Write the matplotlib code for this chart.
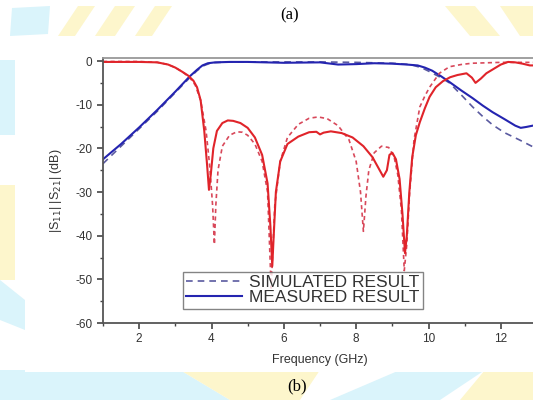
import matplotlib
matplotlib.use('Agg')
import matplotlib.pyplot as plt
from matplotlib.patches import Polygon, Rectangle

plt.rcParams['font.family'] = ['Liberation Sans', 'DejaVu Sans']
plt.rcParams['axes.unicode_minus'] = False

# measured S11 (red solid)
f_s11_meas = [1.0, 1.5, 2.0, 2.5, 2.8, 3.0, 3.2, 3.35, 3.5, 3.6, 3.7, 3.8, 3.88, 3.93, 3.98,
              4.05, 4.15, 4.3, 4.45, 4.6, 4.8, 5.0, 5.2, 5.4, 5.55, 5.63, 5.68, 5.72, 5.78,
              5.9, 6.1, 6.4, 6.7, 6.9, 7.0, 7.1, 7.3, 7.6, 7.9, 8.2, 8.45, 8.65, 8.75, 8.85,
              8.92, 9.0, 9.1, 9.2, 9.28, 9.35, 9.4, 9.47, 9.55, 9.65, 9.76, 9.9, 10.03, 10.2,
              10.4, 10.6, 10.8, 11.05, 11.2, 11.3, 11.45, 11.6, 11.8, 12.0, 12.2, 12.4, 12.6,
              12.8, 13.0]
s11_meas = [-0.2, -0.2, -0.2, -0.3, -0.8, -1.5, -2.5, -3.3, -4.5, -6.0, -9, -16, -24, -29.5, -26,
            -20, -16, -14.2, -13.6, -13.7, -14.2, -15.3, -17.5, -21.5, -28, -38, -47, -40, -30,
            -23, -19, -17.3, -16.3, -16.2, -16.8, -16.4, -16.1, -16.5, -17.5, -19.5, -22, -25, -26.5, -25,
            -21.5, -21, -22.5, -27, -35, -44, -40, -30, -22, -17, -14, -10.8, -8.2, -6.0,
            -4.6, -3.7, -3.2, -2.8, -3.8, -5.0, -4.0, -2.8, -1.8, -0.8, -0.2, -0.3, -0.6,
            -1.0, -1.0]

# simulated S11 (red dashed)
f_s11_sim = [1.0, 2.0, 2.5, 2.8, 3.0, 3.2, 3.4, 3.55, 3.7, 3.85, 3.95, 4.03, 4.08, 4.12, 4.18,
             4.3, 4.5, 4.7, 4.85, 5.0, 5.2, 5.4, 5.55, 5.65, 5.75, 5.9, 6.1, 6.4, 6.7, 6.95,
             7.2, 7.5, 7.8, 8.0, 8.12, 8.2, 8.27, 8.35, 8.5, 8.7, 8.9, 9.05, 9.15, 9.25, 9.33,
             9.4, 9.48, 9.6, 9.76, 9.9, 10.03, 10.3, 10.58, 10.9, 11.2, 11.6, 12.0, 12.5, 13.0]
s11_sim = [-0.1, -0.1, -0.3, -0.8, -1.5, -2.5, -3.8, -5.5, -9, -16, -24, -33, -42, -33, -25,
           -19.5, -17, -16.2, -16.3, -17, -19, -23, -30, -52, -33, -23, -17.5, -14.5, -13.1, -12.8,
           -13.2, -14.8, -18, -23, -30, -39, -31, -25, -21, -19.5, -19.8, -22, -26, -34, -48,
           -42, -30, -18, -10.5, -8, -6, -2.8, -1.3, -0.8, -0.5, -0.4, -0.3, -0.3, -0.3]

# measured S21 (blue solid)
f_s21_meas = [1.0, 1.5, 2.0, 2.5, 3.0, 3.4, 3.6, 3.75, 3.9, 4.1, 4.5, 5.0, 6.0, 7.0, 7.5, 8.0,
              8.5, 9.0, 9.4, 9.7, 9.9, 10.1, 10.35, 10.58, 10.9, 11.22, 11.5, 11.77, 12.1,
              12.4, 12.55, 12.7, 13.0]
s21_meas = [-22.5, -19, -15.2, -11.2, -7, -3.5, -2, -1, -0.5, -0.3, -0.2, -0.2, -0.4, -0.3, -0.8,
            -0.7, -0.5, -0.6, -0.8, -1.0, -1.5, -2.2, -3.5, -4.8, -6.7, -8.5, -10.2, -11.7, -13.3,
            -14.8, -15.3, -15.1, -14.6]

# simulated S21 (blue dashed)
f_s21_sim = [1.0, 1.5, 2.0, 2.5, 3.0, 3.4, 3.6, 3.8, 4.0, 4.5, 5, 6, 7, 8, 9, 9.5, 9.8, 10.0,
             10.3, 10.58, 10.9, 11.22, 11.5, 11.77, 12.1, 12.5, 12.9, 13.0]
s21_sim = [-23.5, -19.5, -15.5, -11.5, -7.2, -3.8, -2.2, -1.0, -0.4, -0.2, -0.2, -0.2, -0.2, -0.3,
           -0.5, -0.8, -1.5, -2.3, -3.6, -5.0, -7.7, -10.5, -12.7, -14.6, -16.4, -18, -19.7, -20.5]

xticks = [2, 4, 6, 8, 10, 12]
yticks = [0, -10, -20, -30, -40, -50, -60]

W, H = 533, 400
fig = plt.figure(figsize=(5.33, 4.0), dpi=100)

# faint watermark stripes of the page behind the figure
def px_poly(pts, color):
    fig.patches.append(Polygon([(x / W, 1 - y / H) for x, y in pts], closed=True,
                               transform=fig.transFigure, facecolor=color,
                               edgecolor='none', zorder=-5))

yel = '#fdf6cc'
cyan = '#daf4fb'
px_poly([(12, 8), (50, 6), (48, 34), (10, 36)], cyan)
px_poly([(58, 36), (78, 6), (95, 6), (75, 36)], yel)
px_poly([(95, 36), (115, 6), (135, 6), (115, 36)], yel)
px_poly([(135, 36), (155, 6), (172, 6), (152, 36)], yel)
px_poly([(445, 6), (475, 6), (500, 36), (470, 36)], yel)
px_poly([(500, 6), (533, 6), (533, 36), (520, 36)], yel)
px_poly([(0, 60), (15, 60), (15, 135), (0, 135)], cyan)
px_poly([(0, 185), (15, 185), (15, 280), (0, 280)], yel)
px_poly([(0, 280), (25, 300), (25, 330), (0, 320)], cyan)
px_poly([(0, 370), (180, 370), (230, 400), (0, 400)], cyan)
px_poly([(180, 370), (320, 370), (300, 400), (230, 400)], yel)
px_poly([(400, 370), (485, 370), (440, 400), (330, 400)], cyan)
px_poly([(485, 370), (533, 370), (533, 400), (460, 400)], yel)
fig.patches.append(Rectangle((25 / W, 1 - 372 / H), 1, (372 - 40) / H,
                             transform=fig.transFigure, facecolor='white',
                             edgecolor='none', zorder=-4))

ax = fig.add_axes([103 / W, 1 - 323 / H, 434 / W, 265 / H])

ax.plot(f_s21_sim, s21_sim, color='#5a5aa0', lw=1.2, ls=(0, (4, 3)), label='SIMULATED RESULT')
ax.plot(f_s21_meas, s21_meas, color='#2424b0', lw=1.5, label='MEASURED RESULT')
ax.plot(f_s11_sim, s11_sim, color='#d8485a', lw=1.2, ls=(0, (2.5, 2)))
ax.plot(f_s11_meas, s11_meas, color='#e0242a', lw=1.5)

ax.set_xlim(1, 13)
ax.set_ylim(-60, 0.7)
ax.set_xticks(xticks)
ax.set_xticks(range(1, 14), minor=True)
ax.set_yticks(yticks)
ax.set_yticks(range(-55, 1, 10), minor=True)

tc = '#444444'
ax.tick_params(axis='both', which='both', direction='out', colors=tc, labelsize=8.5,
               labelcolor='#333333')
ax.tick_params(which='major', length=4, width=1.2)
ax.tick_params(which='minor', length=2.5, width=1.0)
for side in ['left', 'bottom']:
    ax.spines[side].set_color('#555555')
    ax.spines[side].set_linewidth(1.3)
for side in ['top', 'right']:
    ax.spines[side].set_color('#999999')
    ax.spines[side].set_linewidth(1.3)

ax.set_xlabel('Frequency (GHz)', fontsize=9, color='#333333', labelpad=6)
ax.set_ylabel(r'|S$_{11}$| |S$_{21}$| (dB)', fontsize=9, color='#333333', labelpad=8)

leg = ax.legend(loc='lower left', bbox_to_anchor=(0.184, 0.053), fontsize=12.5,
                frameon=True, fancybox=False, handlelength=3.2, borderpad=0.2,
                labelspacing=0.0, handletextpad=0.4, borderaxespad=0)
leg.get_frame().set_edgecolor('#666666')
leg.get_frame().set_linewidth(1.0)
for t in leg.get_texts():
    t.set_color('#333333')

fig.text(290 / W, 1 - 15 / H, '(a)', fontsize=12, family='Liberation Serif',
         ha='center', va='center')
fig.text(297 / W, 1 - 386 / H, '(b)', fontsize=12, family='Liberation Serif',
         ha='center', va='center')

fig.savefig('out.png', dpi=100)
